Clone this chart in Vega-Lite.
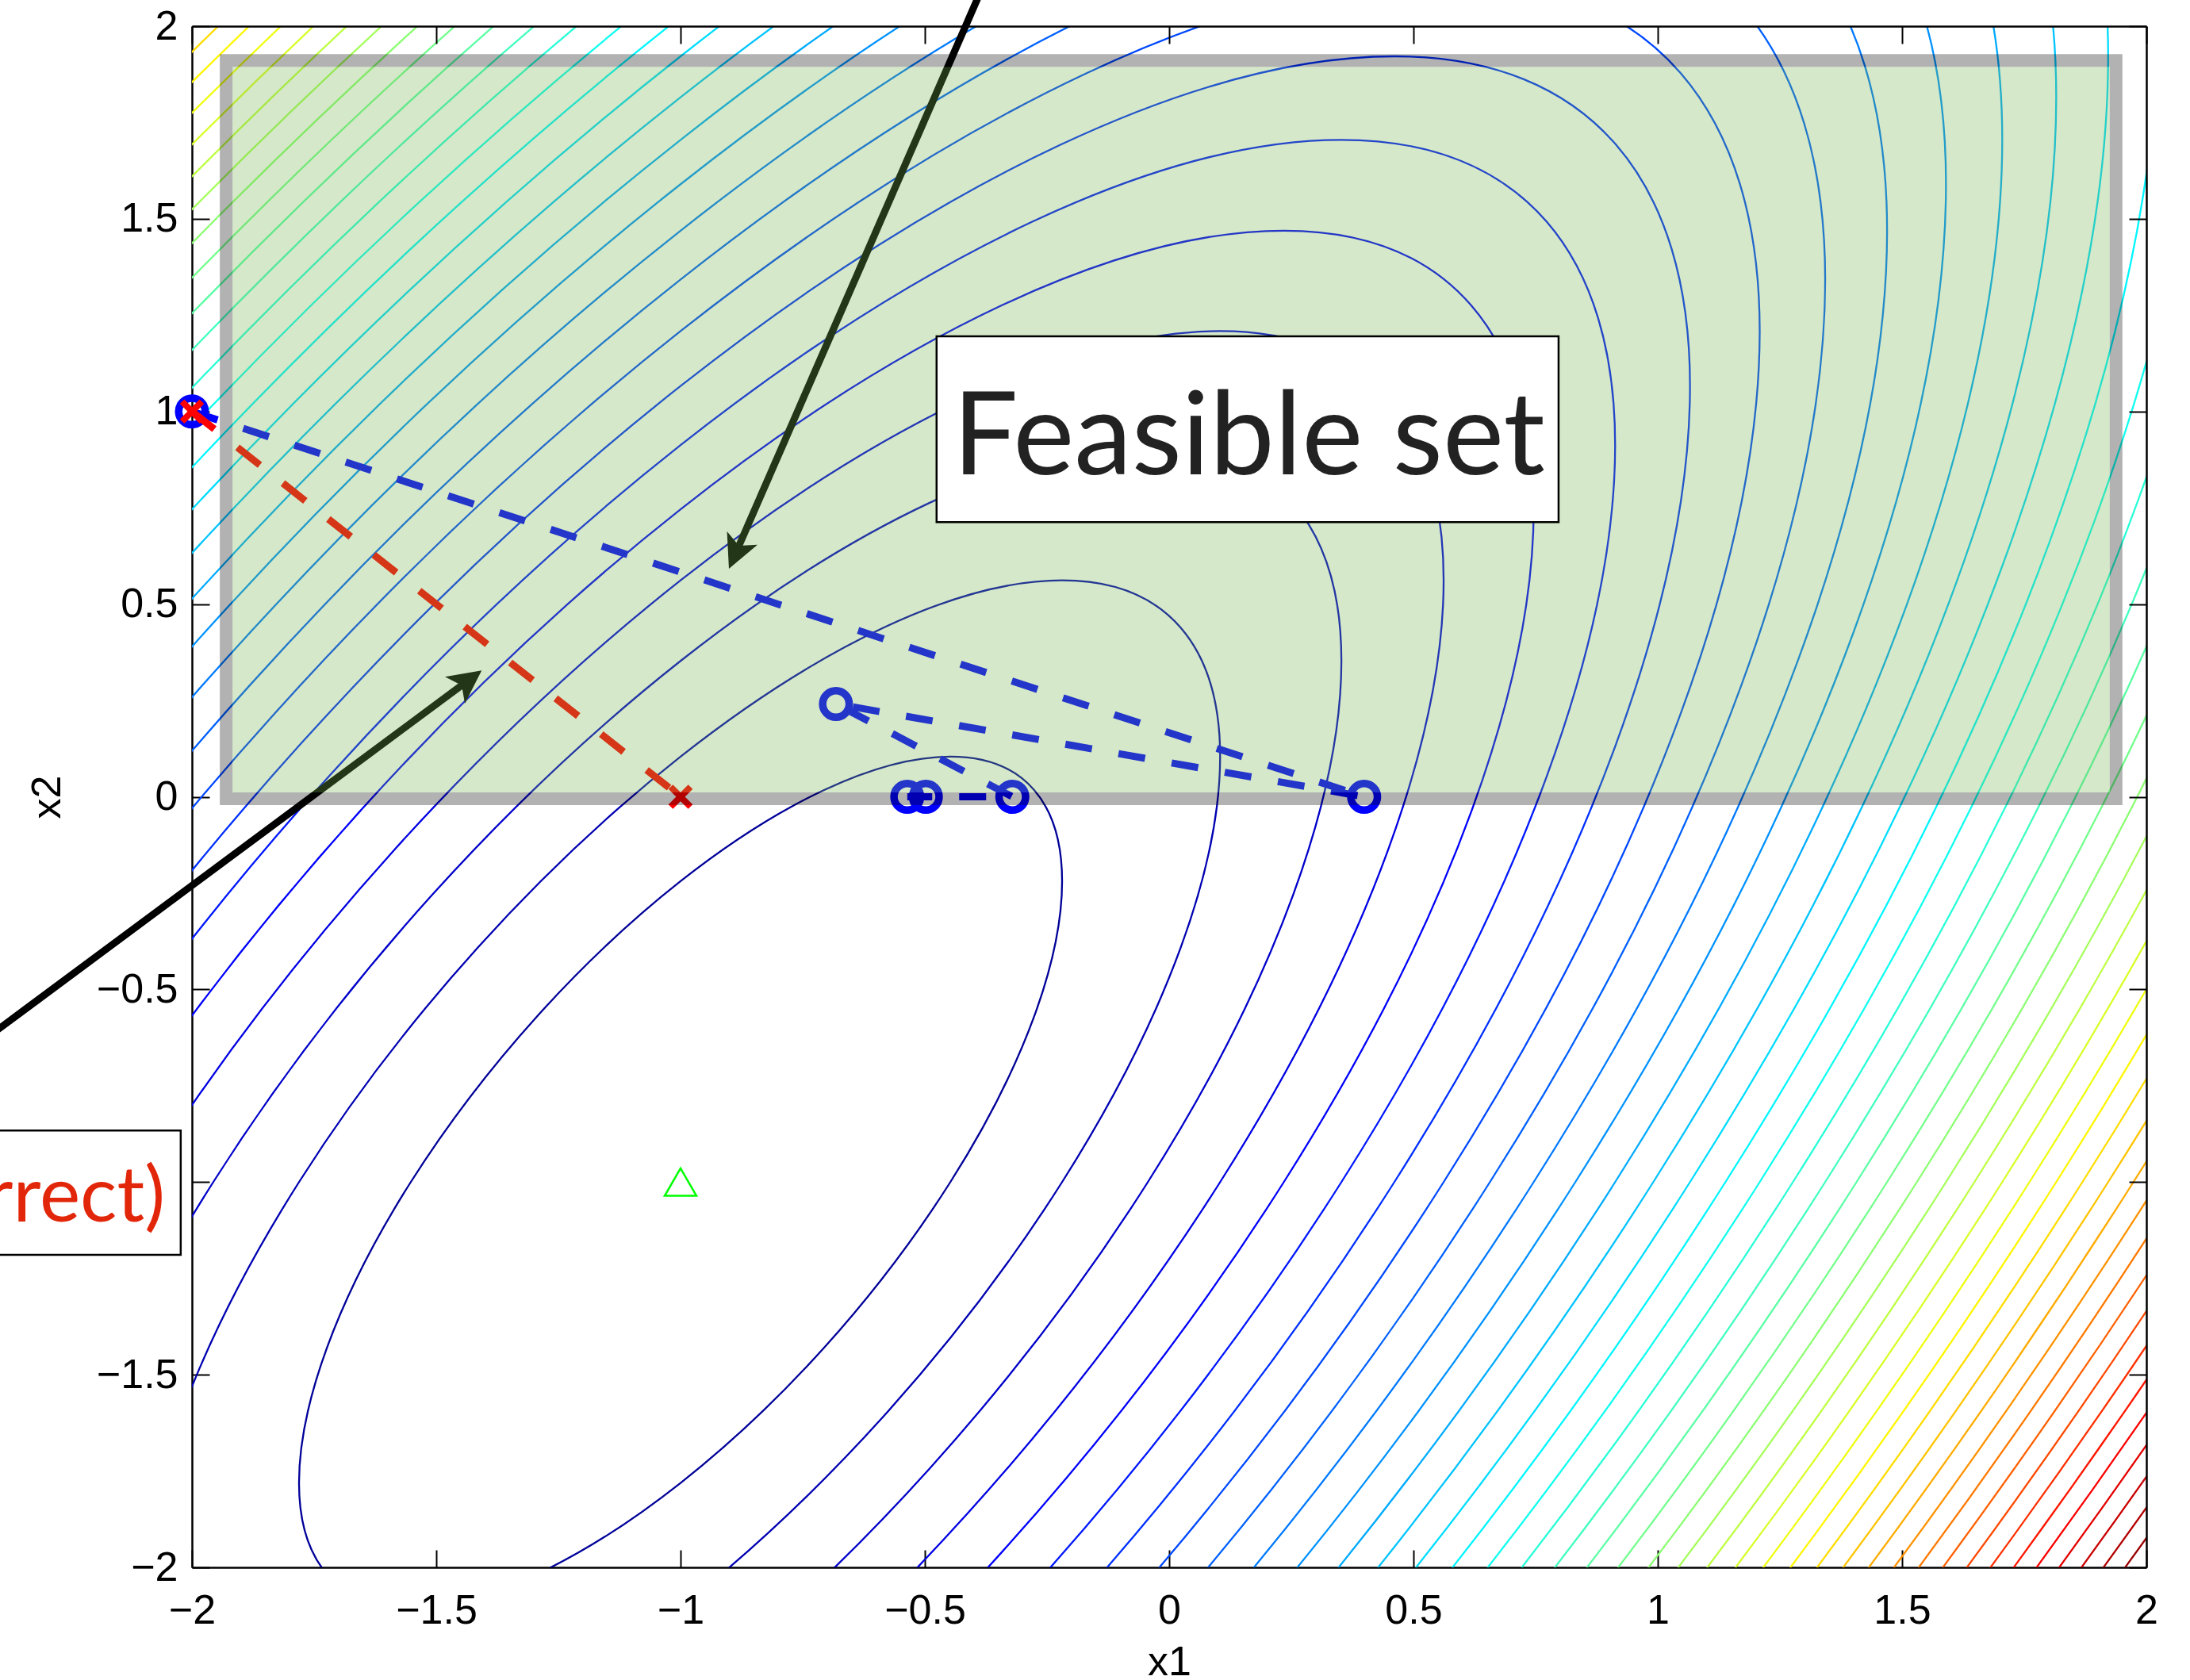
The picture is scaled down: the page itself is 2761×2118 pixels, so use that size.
{
  "$schema": "https://vega.github.io/schema/vega-lite/v6.json",
  "width": 2464,
  "height": 1943,
  "autosize": {"type": "none"},
  "padding": {"left": 242, "top": 33, "right": 55, "bottom": 142},
  "background": "white",
  "config": {
    "view": {"stroke": null},
    "axis": {
      "domainColor": "black",
      "domainWidth": 2.5,
      "tickColor": "black",
      "tickWidth": 2,
      "tickSize": -22,
      "labelFont": "Liberation Sans",
      "labelFontSize": 52,
      "labelColor": "black",
      "labelFlush": false,
      "labelOverlap": false,
      "titleFont": "Liberation Sans",
      "titleFontSize": 52,
      "titleFontWeight": "normal",
      "titleColor": "black",
      "grid": false
    }
  },
  "datasets": {
    "levels": [
      {"x1": -1, "x2": -1, "level": 0.30488},
      {"x1": -1, "x2": -1, "level": 0.60976},
      {"x1": -1, "x2": -1, "level": 0.91463},
      {"x1": -1, "x2": -1, "level": 1.21951},
      {"x1": -1, "x2": -1, "level": 1.52439},
      {"x1": -1, "x2": -1, "level": 1.82927},
      {"x1": -1, "x2": -1, "level": 2.13415},
      {"x1": -1, "x2": -1, "level": 2.43902},
      {"x1": -1, "x2": -1, "level": 2.7439},
      {"x1": -1, "x2": -1, "level": 3.04878},
      {"x1": -1, "x2": -1, "level": 3.35366},
      {"x1": -1, "x2": -1, "level": 3.65854},
      {"x1": -1, "x2": -1, "level": 3.96341},
      {"x1": -1, "x2": -1, "level": 4.26829},
      {"x1": -1, "x2": -1, "level": 4.57317},
      {"x1": -1, "x2": -1, "level": 4.87805},
      {"x1": -1, "x2": -1, "level": 5.18293},
      {"x1": -1, "x2": -1, "level": 5.4878},
      {"x1": -1, "x2": -1, "level": 5.79268},
      {"x1": -1, "x2": -1, "level": 6.09756},
      {"x1": -1, "x2": -1, "level": 6.40244},
      {"x1": -1, "x2": -1, "level": 6.70732},
      {"x1": -1, "x2": -1, "level": 7.0122},
      {"x1": -1, "x2": -1, "level": 7.31707},
      {"x1": -1, "x2": -1, "level": 7.62195},
      {"x1": -1, "x2": -1, "level": 7.92683},
      {"x1": -1, "x2": -1, "level": 8.23171},
      {"x1": -1, "x2": -1, "level": 8.53659},
      {"x1": -1, "x2": -1, "level": 8.84146},
      {"x1": -1, "x2": -1, "level": 9.14634},
      {"x1": -1, "x2": -1, "level": 9.45122},
      {"x1": -1, "x2": -1, "level": 9.7561},
      {"x1": -1, "x2": -1, "level": 10.06098},
      {"x1": -1, "x2": -1, "level": 10.36585},
      {"x1": -1, "x2": -1, "level": 10.67073},
      {"x1": -1, "x2": -1, "level": 10.97561},
      {"x1": -1, "x2": -1, "level": 11.28049},
      {"x1": -1, "x2": -1, "level": 11.58537},
      {"x1": -1, "x2": -1, "level": 11.89024},
      {"x1": -1, "x2": -1, "level": 12.19512}
    ],
    "minimum": [{"x1": -1, "x2": -1}],
    "blue": [
      {"step": 0, "x1": -2, "x2": 1},
      {"step": 1, "x1": 0.399, "x2": 0},
      {"step": 2, "x1": -0.682, "x2": 0.241},
      {"step": 3, "x1": -0.321, "x2": 0},
      {"step": 4, "x1": -0.498, "x2": 0},
      {"step": 5, "x1": -0.536, "x2": 0}
    ],
    "red": [
      {"step": 0, "x1": -2, "x2": 1},
      {"step": 1, "x1": -1, "x2": 0}
    ],
    "arrows": [
      {"id": "a", "step": 0, "x1": -0.348, "x2": 2.2},
      {"id": "a", "step": 1, "x1": -0.8815, "x2": 0.6486},
      {"id": "b", "step": 0, "x1": -2.6, "x2": -0.795},
      {"id": "b", "step": 1, "x1": -1.446, "x2": 0.291}
    ],
    "heads": [
      {"id": "a", "x1": -0.901, "x2": 0.592},
      {"id": "b", "x1": -1.407, "x2": 0.328}
    ],
    "feasible": [
      {"x1": -1.93, "x1e": 1.938, "x2": -0.005, "x2e": 1.911}
    ],
    "boxes": [
      {"id": "feasible", "x1": -0.476, "x1e": 0.797, "x2": 0.713, "x2e": 1.195},
      {"id": "projection", "x1": -2.6, "x1e": -2.023, "x2": -1.189, "x2e": -0.866}
    ],
    "labels": [
      {"id": "feasible", "x1": 0.163, "x2": 0.837, "text": "Feasible set"},
      {"id": "projection", "x1": -2.055, "x2": -1.102, "text": "(incorrect)"}
    ]
  },
  "resolve": {"axis": {"x": "independent", "y": "independent"}},
  "layer": [
    {
      "data": {"name": "levels"},
      "mark": {
        "type": "point",
        "shape": "M0.616,0C0.95621,-0.53654,0.95621,-0.9715,0.616,-0.9715C0.27579,-0.9715,-0.27579,-0.53654,-0.616,0C-0.95621,0.53654,-0.95621,0.9715,-0.616,0.9715C-0.27579,0.9715,0.27579,0.53654,0.616,0Z",
        "filled": false,
        "opacity": 1,
        "strokeWidth": 2.3,
        "clip": true
      },
      "encoding": {
        "x": {
          "field": "x1", "type": "quantitative",
          "scale": {"domain": [-2, 2], "nice": false, "zero": false},
          "axis": {"orient": "bottom", "title": "x1", "values": [-2, -1.5, -1, -0.5, 0, 0.5, 1, 1.5, 2], "format": "~g", "labelPadding": 51, "titlePadding": 14, "zindex": 0}
        },
        "y": {
          "field": "x2", "type": "quantitative",
          "scale": {"domain": [-2, 2], "nice": false, "zero": false},
          "axis": {"orient": "left", "title": "x2", "values": [-2, -1.5, -1, -0.5, 0, 0.5, 1, 1.5, 2], "format": "~g", "labelPadding": 40, "titlePadding": 35, "zindex": 0}
        },
        "size": {"field": "level", "type": "quantitative", "scale": {"type": "linear", "domain": [0, 12.5], "range": [0, 50000000]}, "legend": null},
        "color": {
          "field": "level", "type": "quantitative",
          "scale": {"type": "linear", "domain": [0, 1.5625, 4.6875, 7.8125, 10.9375, 12.5], "range": ["#000080", "#0000ff", "#00ffff", "#ffff00", "#ff0000", "#800000"], "interpolate": "rgb"},
          "legend": null
        }
      }
    },
    {
      "data": {"name": "minimum"},
      "mark": {"type": "point", "shape": "triangle-up", "filled": false, "opacity": 1, "stroke": "#00ff00", "strokeWidth": 2.5, "size": 1600},
      "encoding": {
        "x": {"field": "x1", "type": "quantitative", "axis": {"orient": "top", "title": null, "labels": false, "values": [-2, -1.5, -1, -0.5, 0, 0.5, 1, 1.5, 2], "zindex": 1}},
        "y": {"field": "x2", "type": "quantitative", "axis": {"orient": "right", "title": null, "labels": false, "values": [-2, -1.5, -1, -0.5, 0, 0.5, 1, 1.5, 2], "zindex": 1}}
      }
    },
    {
      "data": {"name": "arrows"},
      "mark": {"type": "line", "color": "black", "strokeWidth": 9, "clip": false},
      "encoding": {
        "x": {"field": "x1", "type": "quantitative", "axis": null},
        "y": {"field": "x2", "type": "quantitative", "axis": null},
        "detail": {"field": "id"},
        "order": {"field": "step"}
      }
    },
    {
      "data": {"name": "heads"},
      "transform": [{"filter": "datum.id === 'a'"}],
      "mark": {"type": "point", "shape": "M0,0L1,2L0,1.5L-1,2Z", "filled": true, "opacity": 1, "color": "black", "size": 1764, "angle": 203.6, "clip": false},
      "encoding": {
        "x": {"field": "x1", "type": "quantitative", "axis": null},
        "y": {"field": "x2", "type": "quantitative", "axis": null}
      }
    },
    {
      "data": {"name": "heads"},
      "transform": [{"filter": "datum.id === 'b'"}],
      "mark": {"type": "point", "shape": "M0,0L1,2L0,1.5L-1,2Z", "filled": true, "opacity": 1, "color": "black", "size": 1764, "angle": 53.4, "clip": false},
      "encoding": {
        "x": {"field": "x1", "type": "quantitative", "axis": null},
        "y": {"field": "x2", "type": "quantitative", "axis": null}
      }
    },
    {
      "data": {"name": "blue"},
      "mark": {"type": "line", "color": "#0000ff", "strokeWidth": 9, "strokeDash": [34, 34], "clip": false},
      "encoding": {
        "x": {"field": "x1", "type": "quantitative", "axis": null},
        "y": {"field": "x2", "type": "quantitative", "axis": null},
        "order": {"field": "step"}
      }
    },
    {
      "data": {"name": "blue"},
      "mark": {"type": "point", "shape": "circle", "filled": false, "opacity": 1, "stroke": "#0000ff", "strokeWidth": 9.5, "size": 1122, "clip": false},
      "encoding": {
        "x": {"field": "x1", "type": "quantitative", "axis": null},
        "y": {"field": "x2", "type": "quantitative", "axis": null}
      }
    },
    {
      "data": {"name": "red"},
      "mark": {"type": "line", "color": "#ff0000", "strokeWidth": 9, "strokeDash": [36, 37], "clip": false},
      "encoding": {
        "x": {"field": "x1", "type": "quantitative", "axis": null},
        "y": {"field": "x2", "type": "quantitative", "axis": null},
        "order": {"field": "step"}
      }
    },
    {
      "data": {"name": "red"},
      "mark": {"type": "point", "shape": "M-1,-1L1,1M-1,1L1,-1", "filled": false, "opacity": 1, "stroke": "#ff0000", "strokeWidth": 8, "size": 625, "clip": false},
      "encoding": {
        "x": {"field": "x1", "type": "quantitative", "axis": null},
        "y": {"field": "x2", "type": "quantitative", "axis": null}
      }
    },
    {
      "data": {"name": "feasible"},
      "mark": {"type": "rect", "fill": "#73b24b", "fillOpacity": 0.3, "xOffset": 8, "x2Offset": -8, "yOffset": -8, "y2Offset": 8},
      "encoding": {
        "x": {"field": "x1", "type": "quantitative", "axis": null},
        "x2": {"field": "x1e"},
        "y": {"field": "x2", "type": "quantitative", "axis": null},
        "y2": {"field": "x2e"}
      }
    },
    {
      "data": {"name": "feasible"},
      "mark": {"type": "rect", "fill": "transparent", "stroke": "#000000", "strokeOpacity": 0.3, "strokeWidth": 16},
      "encoding": {
        "x": {"field": "x1", "type": "quantitative", "axis": null},
        "x2": {"field": "x1e"},
        "y": {"field": "x2", "type": "quantitative", "axis": null},
        "y2": {"field": "x2e"}
      }
    },
    {
      "data": {"name": "boxes"},
      "mark": {"type": "rect", "fill": "white", "stroke": "black", "strokeWidth": 2.5, "clip": false},
      "encoding": {
        "x": {"field": "x1", "type": "quantitative", "axis": null},
        "x2": {"field": "x1e"},
        "y": {"field": "x2", "type": "quantitative", "axis": null},
        "y2": {"field": "x2e"}
      }
    },
    {
      "data": {"name": "labels"},
      "transform": [{"filter": "datum.id === 'feasible'"}],
      "mark": {"type": "text", "font": "Lato", "fontSize": 146, "color": "#222222", "align": "center", "baseline": "alphabetic", "clip": false},
      "encoding": {
        "x": {"field": "x1", "type": "quantitative", "axis": null},
        "y": {"field": "x2", "type": "quantitative", "axis": null},
        "text": {"field": "text"}
      }
    },
    {
      "data": {"name": "labels"},
      "transform": [{"filter": "datum.id === 'projection'"}],
      "mark": {"type": "text", "font": "Lato", "fontSize": 97, "color": "#e2260a", "align": "right", "baseline": "alphabetic", "clip": false},
      "encoding": {
        "x": {"field": "x1", "type": "quantitative", "axis": null},
        "y": {"field": "x2", "type": "quantitative", "axis": null},
        "text": {"field": "text"}
      }
    }
  ]
}
